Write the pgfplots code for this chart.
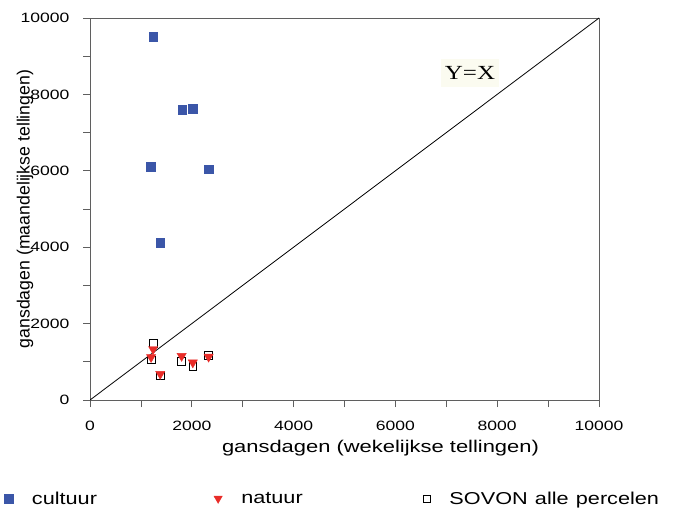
\documentclass[border=0pt]{standalone}
\usepackage{pgfplots}
\pgfplotsset{compat=1.18}
\usepackage{fontspec}
\setmainfont{Liberation Sans}
\newfontfamily\serifY{Liberation Serif}
\definecolor{cultblue}{RGB}{59,86,168}
\definecolor{natred}{RGB}{232,44,40}
\definecolor{axgray}{RGB}{95,95,95}
\definecolor{boxbg}{RGB}{251,251,240}

% punten: x = gansdagen wekelijks, y = gansdagen maandelijks
\pgfplotstableread{
x    y
1240 9500
1810 7600
2020 7630
1200 6100
2330 6040
1380 4110
}\cultuur
\pgfplotstableread{
x    y
1240 1330
1200 1120
1380 680
1800 1150
2020 980
2330 1130
}\natuur
\pgfplotstableread{
x    y
1240 1480
1200 1050
1380 630
1800 1020
2020 890
2330 1170
}\sovon

\pgfplotsset{lgmark/.style={legend image code/.code={\draw[##1] plot coordinates {(0pt,0pt)};}}}

\begin{document}
\begin{tikzpicture}
\useasboundingbox (0,0) rectangle (676pt,509pt);
\begin{axis}[
  at={(90pt,109pt)}, anchor=south west,
  scale only axis, width=509pt, height=382pt,
  xmin=0, xmax=10000, ymin=0, ymax=10000,
  xtick={0,2000,...,10000}, ytick={0,2000,...,10000},
  scaled ticks=false,
  minor tick num=1,
  tick align=outside, tick pos=left,
  major tick length=7pt, minor tick length=7pt,
  axis line style={axgray, line width=0.9pt},
  tick style={axgray, line width=0.8pt},
  tick label style={font=\fontsize{13.5}{15}\selectfont},
  xticklabel style={yshift=-11pt},
  yticklabel style={xshift=-10pt},
  /pgf/number format/assume math mode=true,
  /pgf/number format/1000 sep={},
  xticklabel={\scalebox{1.3}[1]{\pgfmathprintnumber{\tick}}},
  yticklabel={\scalebox{1.3}[1]{\pgfmathprintnumber{\tick}}},
  xlabel={\scalebox{1.29}[1]{gansdagen (wekelijkse tellingen)}},
  xlabel style={font=\fontsize{17}{20}\selectfont, at={(axis description cs:0.5707,-0.1257)}, anchor=center},
  ylabel={gansdagen (maandelijkse tellingen)},
  ylabel style={font=\fontsize{17.7}{20}\selectfont, at={(axis description cs:-0.1277,0.5)}, anchor=center},
  legend columns=3,
  legend cell align=left,
  legend style={at={(axis description cs:-0.169,-0.258)}, anchor=west,
    draw=none, fill=none, inner sep=0pt,
    font=\fontsize{17.2}{20}\selectfont,
    nodes={text width=182pt, inner sep=0pt, align=left},
    /tikz/every odd column/.append style={column sep=19pt}},
]
\addplot[black, line width=0.8pt, forget plot] coordinates {(0,0) (10000,10000)};
\addplot[only marks, mark=square*, mark size=4.4pt, cultblue, forget plot] table {\cultuur};
\addplot[only marks, mark=square, mark size=3.9pt, black, line width=0.8pt, forget plot] table {\sovon};
\addplot[only marks, mark=triangle*, mark size=5.3pt, natred, every mark/.append style={rotate=180}, forget plot] table {\natuur};

\addlegendimage{only marks, mark=square*, mark size=4.4pt, cultblue, lgmark}
\addlegendentry{\scalebox{1.26}[1]{cultuur}}
\addlegendimage{only marks, mark=triangle*, mark size=4.8pt, natred, every mark/.append style={rotate=180}, lgmark}
\addlegendentry{\scalebox{1.26}[1]{natuur}}
\addlegendimage{only marks, mark=square, mark size=3.6pt, black, line width=0.8pt, lgmark}
\addlegendentry{\scalebox{1.26}[1]{SOVON alle percelen}}

\node[font=\serifY\fontsize{20}{22}\selectfont, fill=boxbg, inner xsep=3.5pt, inner ysep=7pt]
  at (axis cs:7466,8560) {\scalebox{1.25}[1]{Y=X}};
\end{axis}
\end{tikzpicture}
\end{document}
